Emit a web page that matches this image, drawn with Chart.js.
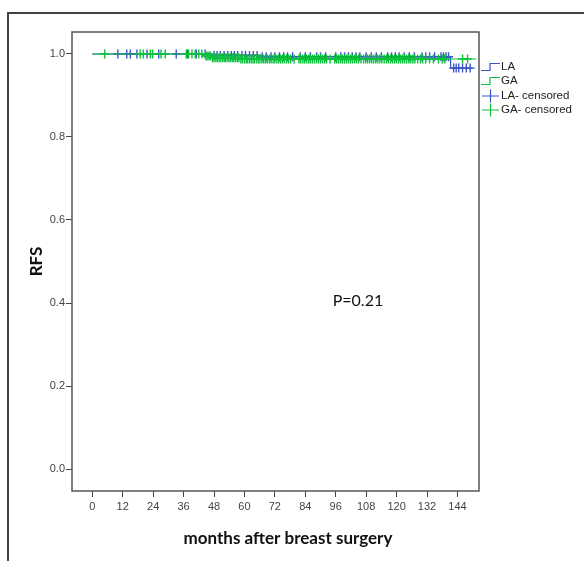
<!DOCTYPE html>
<html>
<head>
<meta charset="utf-8">
<script src="https://cdn.jsdelivr.net/npm/chart.js@4"></script>
<style>
  html, body { margin: 0; padding: 0; background: #fff; }
  #wrap { position: relative; width: 584px; height: 561px; overflow: hidden; }
  #frame { position: absolute; left: 7px; top: 12px; width: 600px; height: 600px;
           border-left: 2px solid #444; border-top: 2px solid #444; }
  canvas { position: absolute; left: 0; top: 0; }
</style>
</head>
<body>
<div id="wrap">
  <div id="frame"></div>
  <canvas id="kmChart" width="584" height="561"></canvas>
</div>
<script>
// tick labels
const xTicks = [0, 12, 24, 36, 48, 60, 72, 84, 96, 108, 120, 132, 144];
const yTicks = [0, 0.2, 0.4, 0.6, 0.8, 1.0];

// Kaplan-Meier steps (time in months, survival after the step)
const laStepTime = [0, 47, 66, 141.3, 150];
const laStepSurv = [1.0, 0.9965, 0.9935, 0.966, 0.966];
const gaStepTime = [0, 44, 47, 58, 151.5];
const gaStepSurv = [1.0, 0.995, 0.991, 0.988, 0.988];

// censored follow-up times
const laCensored = [10.1, 13.6, 15.0, 17.6, 21.6, 26.2, 33.1, 37.5, 41, 44.5, 48, 49.2, 50.5, 52, 53.4,
  54.8, 56, 57.3, 59, 60.4, 62, 63.5, 65, 67, 68.6, 70.5, 72, 73.8, 75.5, 77, 79, 82, 84, 86, 88.5,
  90, 92, 96, 98, 99.5, 101, 102.5, 104, 105.5, 108, 110, 112, 114, 116.5, 118, 119.5, 121, 123,
  125, 127, 130, 131.5, 133, 135, 137.5, 138.5, 139.5, 140.5, 142.5, 143.5, 144.5, 146, 147.5, 149];
const gaCensored = [4.9, 18.9, 20.1, 22.9, 23.8, 27.1, 28.8, 37.1, 38.0, 39.3, 40.6, 42.0, 43.2,
  44.8, 45.3, 46, 46.6, 47.4, 48, 48.7, 49.3, 50, 50.6, 51.3, 52, 52.5, 53.2, 53.9, 54.5, 55.2, 55.8,
  56.5, 57.2, 57.8, 58.6, 59.2, 60, 60.7, 61.3, 62, 62.7, 63.4, 64, 64.8, 65.5, 66.1, 66.9, 67.6,
  68.3, 69, 69.8, 70.5, 71.3, 72, 72.8, 73.5, 74.3, 75, 75.8, 76.6, 77.4, 78.2, 79.6, 81.5, 82.2, 83,
  83.7, 84.5, 85.3, 86, 86.8, 87.6, 88.4, 89.2, 90, 90.8, 91.6, 92.4, 93.8, 95.6, 96.3, 97, 97.8, 98.6,
  99.4, 100.2, 101, 101.8, 102.6, 103.4, 104.2, 105, 106, 107, 107.8, 108.6, 109.4, 110.2, 111, 111.8,
  112.6, 113.4, 114.2, 115.1, 116, 116.8, 117.6, 118.4, 119.2, 120, 120.8, 121.6, 122.4, 123.2, 124,
  124.8, 125.6, 126.4, 127.2, 128.3, 129.4, 130.3, 131.5, 133, 134.5, 136.5, 138, 139, 146, 148];

const legendLabels = ['LA', 'GA', 'LA- censored', 'GA- censored'];
const pLabel = 'P=0.21';
const xTitle = 'months after breast surgery';
const yTitle = 'RFS';

const blue = '#3a55c8';
const green = '#0cc23c';

function survAt(times, surv, t) {
  let s = surv[0];
  for (let i = 0; i < times.length; i++) if (times[i] <= t) s = surv[i];
  return s;
}
const steps = (times, surv) => times.map((t, i) => ({x: t, y: surv[i]}));
const marks = (cens, times, surv) => cens.map(t => ({x: t, y: survAt(times, surv, t)}));

const decor = {
  id: 'decor',
  afterDraw(chart) {
    const {ctx, chartArea: a, scales: {x, y}} = chart;
    ctx.save();
    ctx.strokeStyle = '#555';
    ctx.lineWidth = 1.5;
    ctx.strokeRect(a.left, a.top, a.right - a.left, a.bottom - a.top);

    ctx.fillStyle = '#111';
    ctx.textBaseline = 'middle';
    ctx.font = '16px Lato';
    ctx.fillText(pLabel, x.getPixelForValue(94.8), y.getPixelForValue(0.405));

    ctx.font = 'bold 17px Lato';
    ctx.textAlign = 'center';
    ctx.fillText(xTitle, 288, 539);

    // legend
    ctx.textAlign = 'left';
    ctx.font = '11.5px "Liberation Sans", Arial, sans-serif';
    ctx.lineWidth = 1.2;
    const lx = a.right + 2, tx = a.right + 22;
    const rows = [67, 81, 96, 110];
    [blue, green].forEach((c, i) => {
      const cy = rows[i];
      ctx.strokeStyle = c;
      ctx.beginPath();
      ctx.moveTo(lx, cy + 3.5); ctx.lineTo(lx + 9, cy + 3.5);
      ctx.lineTo(lx + 9, cy - 3.5); ctx.lineTo(lx + 19, cy - 3.5);
      ctx.stroke();
    });
    [blue, green].forEach((c, i) => {
      const cy = rows[i + 2];
      ctx.strokeStyle = c;
      ctx.beginPath();
      ctx.moveTo(lx + 1, cy); ctx.lineTo(lx + 18, cy);
      ctx.moveTo(lx + 9.5, cy - 6.5); ctx.lineTo(lx + 9.5, cy + 6.5);
      ctx.stroke();
    });
    ctx.fillStyle = '#222';
    legendLabels.forEach((t, i) => ctx.fillText(t, tx, rows[i]));
    ctx.restore();
  }
};

const tickFont = {family: '"Liberation Sans", Arial, sans-serif', size: 11};

new Chart(document.getElementById('kmChart'), {
  type: 'scatter',
  data: {
    datasets: [
      {label: 'LA', data: steps(laStepTime, laStepSurv), showLine: true, stepped: true,
       borderColor: blue, borderWidth: 1.2, pointRadius: 0, order: 4},
      {label: 'LA- censored', data: marks(laCensored, laStepTime, laStepSurv),
       pointStyle: 'cross', pointRadius: 4.5, borderColor: blue, borderWidth: 1.4, order: 3},
      {label: 'GA', data: steps(gaStepTime, gaStepSurv), showLine: true, stepped: true,
       borderColor: green, borderWidth: 1.2, pointRadius: 0, order: 2},
      {label: 'GA- censored', data: marks(gaCensored, gaStepTime, gaStepSurv),
       pointStyle: 'cross', pointRadius: 4.5, borderColor: green, borderWidth: 1.4, order: 1}
    ]
  },
  options: {
    responsive: false,
    animation: false,
    layout: {padding: {left: 0, top: 32, right: 105, bottom: 0}},
    plugins: {legend: {display: false}, tooltip: {enabled: false}},
    scales: {
      x: {
        type: 'linear', min: -8, max: 152.5,
        afterBuildTicks: s => { s.ticks = xTicks.map(v => ({value: v})); },
        afterFit: s => { s.height = 70; },
        ticks: {font: tickFont, color: '#444', padding: 3, maxRotation: 0, autoSkip: false},
        grid: {drawOnChartArea: false, drawTicks: true, tickLength: 6, tickColor: '#444'},
        border: {display: false}
      },
      y: {
        type: 'linear', min: -0.053, max: 1.053,
        afterBuildTicks: s => { s.ticks = yTicks.map(v => ({value: v})); },
        afterFit: s => { s.width = 72; },
        ticks: {font: tickFont, color: '#444', padding: 1, callback: v => v.toFixed(1)},
        grid: {drawOnChartArea: false, drawTicks: true, tickLength: 6, tickColor: '#444'},
        border: {display: false},
        title: {display: true, text: yTitle, color: '#111',
                font: {family: 'Lato', size: 17, weight: 'bold'}, padding: {top: 26, bottom: 0}}
      }
    }
  },
  plugins: [decor]
});
</script>
</body>
</html>
